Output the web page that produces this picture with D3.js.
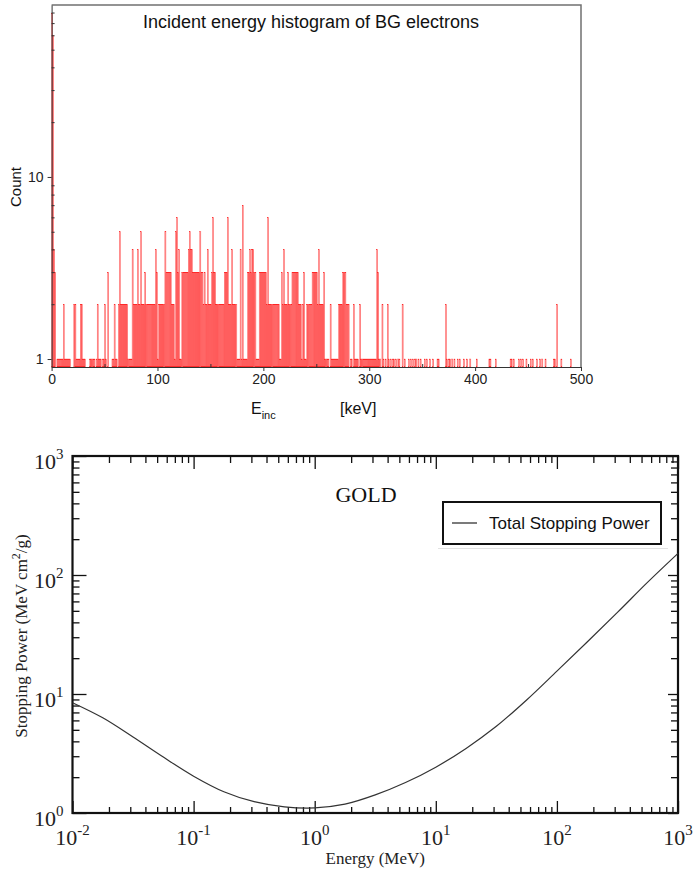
<!DOCTYPE html>
<html><head><meta charset="utf-8">
<script src="https://cdn.jsdelivr.net/npm/d3@7"></script>
<style>body{margin:0;background:#fff}svg{display:block}</style>
</head><body>
<svg id="c" width="695" height="870"></svg>
<script>
// ---------- Histogram data (bin start in keV, 1 keV bins) ----------
const histEnergy = [0,1,2,3,5,6,7,8,9,10,11,12,13,14,15,16,17,
21,22,23,24,25,26,27,28,29,30,31,36,37,38,39,40,42,43,44,45,46,48,49,50,51,53,57,58,59,60,61,
63,64,65,66,67,68,69,70,71,72,73,74,75,76,77,78,79,80,81,82,83,84,85,86,87,88,89,90,91,92,93,94,95,96,97,98,99,
100,101,102,103,104,105,106,107,108,109,110,111,112,113,114,115,116,117,118,119,120,121,122,
123,124,125,126,127,128,129,130,131,132,133,134,135,136,137,138,139,140,141,142,143,144,145,146,147,148,149,150,
151,152,153,154,155,156,157,158,159,160,161,162,163,164,165,166,167,168,169,170,171,172,173,174,175,176,177,178,179,180,
181,182,183,184,185,186,187,188,189,190,191,192,193,194,195,196,197,198,199,200,
201,202,203,204,205,206,207,208,209,210,211,212,213,214,215,216,217,218,219,220,221,222,223,224,225,226,227,228,229,230,231,232,233,234,235,236,237,238,239,240,241,242,243,244,245,246,247,248,249,250,
251,252,253,254,255,256,257,258,259,260,261,263,264,265,266,267,268,269,270,271,272,273,274,275,276,277,278,279,280,282,283,285,286,287,288,289,291,
292,293,294,295,296,297,298,299,300,301,302,303,304,305,306,307,308,309,310,312,313,315,317,318,320,322,323,325,327,328,331,333,
337,339,341,343,344,346,348,352,354,357,360,364,365,372,373,375,376,378,380,383,385,389,392,395,401,
413,414,419,433,434,436,441,443,445,448,452,454,458,461,463,466,474,475,477,481,490];
const histCount = [79,60,4,3,1,1,1,1,1,1,2,1,1,1,1,1,1,
2,2,1,1,1,1,2,2,1,1,1,1,1,1,1,1,1,2,1,1,1,1,1,2,1,3,1,1,2,1,1,
2,5,2,2,2,2,2,2,2,1,1,1,1,4,2,2,2,2,4,2,2,5,2,2,2,3,2,2,2,2,2,2,2,2,2,4,3,
1,2,2,2,2,2,2,5,3,3,3,3,3,2,2,2,1,5,6,3,4,1,1,
3,3,3,3,3,3,4,5,4,4,3,3,3,3,3,3,3,5,3,3,2,3,2,2,4,2,2,2,
3,6,3,3,2,2,2,2,2,2,2,2,3,3,3,6,2,2,2,4,2,2,2,2,1,1,1,4,1,7,
1,1,1,1,3,3,4,3,4,4,3,3,1,1,1,3,3,3,3,3,
3,3,2,6,2,2,2,2,2,2,2,2,2,2,1,1,3,2,4,2,2,2,3,2,2,2,3,3,3,3,3,3,2,2,2,1,2,3,1,1,2,2,2,2,2,3,3,3,3,3,
2,4,2,2,2,2,3,1,1,1,1,2,1,1,1,1,1,1,1,2,2,2,2,3,3,3,2,2,2,1,1,2,1,1,1,1,2,
1,1,1,1,1,1,1,1,1,1,1,1,1,1,1,4,3,1,1,2,1,1,2,1,1,1,1,1,1,1,2,1,
1,1,1,1,1,1,1,1,1,1,1,1,1,2,1,1,1,1,1,1,1,1,1,1,1,
1,1,1,1,1,1,1,1,1,1,1,1,1,1,1,1,1,1,2,1,1];
const histXTicks = [0,100,200,300,400,500];
const histXMinor = [50,150,250,350,450];
const histYTicks = [1,10];
const histYMinor = [2,3,4,5,6,7,8,9,20,30,40,50,60,70,80];

// ---------- Stopping power data (gold), read at quarter decades ----------
const spEnergy = [0.01,0.01778,0.03162,0.05623,0.1,0.1778,0.3162,0.5623,1,1.778,3.162,5.623,10,17.78,31.62,56.23,100,177.8,316.2,562.3,1000];
const spValue  = [8.45,6.31,4.35,2.95,2.04,1.51,1.245,1.127,1.104,1.186,1.419,1.803,2.427,3.49,5.35,8.91,15.56,27.35,48.5,87.1,152];
const spXTicks = [0.01,0.1,1,10,100,1000];
const spXExp = ["-2","-1","0","1","2","3"];
const spYTicks = [1,10,100,1000];
const spYExp = ["0","1","2","3"];
const spMinor = [2,3,4,5,6,7,8,9];

const svg = d3.select("#c");

// ================= TOP: histogram =================
const H = {l:51.6, r:581, t:5, b:367};
const hx = d3.scaleLinear().domain([0,500]).range([H.l,H.r]);
const hy = d3.scaleLog().domain([0.904,88]).range([H.b,H.t]);
const sans = "'Liberation Sans', Arial, sans-serif";

const bars = svg.append("g");
const bw = hx(1)-hx(0);
bars.selectAll("rect").data(d3.range(histEnergy.length)).join("rect")
  .attr("x", i=>hx(histEnergy[i]))
  .attr("width", bw)
  .attr("y", i=>hy(histCount[i]))
  .attr("height", i=>H.b-hy(histCount[i]))
  .attr("fill", "rgba(255,70,70,0.5)")
  .attr("stroke", "#ff1010").attr("stroke-width", 0.3);

// frame top/right (gray)
svg.append("path").attr("d", `M${H.l},${H.t}H${H.r}V${H.b}`)
  .attr("fill","none").attr("stroke","#707070").attr("stroke-width",1.5);

function styleAxis(g, color){
  g.selectAll("path.domain").attr("stroke", color);
  g.selectAll(".tick line").attr("stroke", color);
}
// bottom axis
const hxAxis = svg.append("g").attr("transform",`translate(0,${H.b})`)
  .call(d3.axisBottom(hx).tickValues(histXTicks).tickSize(4).tickSizeOuter(0).tickPadding(3));
hxAxis.selectAll("text").attr("font-family",sans).attr("font-size",14).attr("fill","#222");
styleAxis(hxAxis,"#333");
const hxMinor = svg.append("g").attr("transform",`translate(0,${H.b})`)
  .call(d3.axisBottom(hx).tickValues(histXMinor).tickSize(-3).tickSizeOuter(0).tickFormat(""));
hxMinor.select("path.domain").remove(); styleAxis(hxMinor,"#333");
// left axis
const hyAxis = svg.append("g").attr("transform",`translate(${H.l},0)`)
  .call(d3.axisLeft(hy).tickValues(histYTicks).tickFormat(d3.format("d")).tickSize(4).tickSizeOuter(0).tickPadding(4));
hyAxis.selectAll("text").attr("font-family",sans).attr("font-size",14).attr("fill","#222");
styleAxis(hyAxis,"#333");
const hyMinor = svg.append("g").attr("transform",`translate(${H.l},0)`)
  .call(d3.axisLeft(hy).tickValues(histYMinor).tickSize(-3).tickSizeOuter(0).tickFormat(""));
hyMinor.select("path.domain").remove(); styleAxis(hyMinor,"#333");

svg.append("text").attr("x",311).attr("y",28).attr("text-anchor","middle")
  .attr("font-family",sans).attr("font-size",18).attr("fill","#111")
  .text("Incident energy histogram of BG electrons");
svg.append("text").attr("transform","translate(21,187) rotate(-90)").attr("text-anchor","middle")
  .attr("font-family",sans).attr("font-size",15).attr("fill","#111").text("Count");
const xl = svg.append("text").attr("x",251).attr("y",414)
  .attr("font-family",sans).attr("font-size",16).attr("fill","#111");
xl.append("tspan").text("E");
xl.append("tspan").attr("font-size",11).attr("dy",5).text("inc");
svg.append("text").attr("x",340).attr("y",414)
  .attr("font-family",sans).attr("font-size",16).attr("fill","#111").text("[keV]");

// ================= BOTTOM: stopping power =================
const P = {l:72.5, r:678, t:456, b:813};
const px = d3.scaleLog().domain([0.01,1000]).range([P.l,P.r]);
const py = d3.scaleLog().domain([1,1000]).range([P.b,P.t]);
const serif = "'Liberation Serif', 'Times New Roman', serif";

const xMinorVals = [], yMinorVals = [];
spXTicks.slice(0,-1).forEach(d=>spMinor.forEach(m=>xMinorVals.push(d*m)));
spYTicks.slice(0,-1).forEach(d=>spMinor.forEach(m=>yMinorVals.push(d*m)));

function tickAxis(axisFn, scale, vals, size, tr){
  const g = svg.append("g").attr("transform",tr)
    .call(axisFn(scale).tickValues(vals).tickSize(size).tickSizeOuter(0).tickFormat(""));
  g.select("path.domain").remove();
  g.selectAll(".tick line").attr("stroke","#111").attr("stroke-width",1.3);
  return g;
}
tickAxis(d3.axisBottom, px, spXTicks, -12, `translate(0,${P.b})`);
tickAxis(d3.axisBottom, px, xMinorVals, -6, `translate(0,${P.b})`);
tickAxis(d3.axisTop, px, spXTicks, -13, `translate(0,${P.t})`);
tickAxis(d3.axisTop, px, xMinorVals, -7, `translate(0,${P.t})`);
tickAxis(d3.axisLeft, py, spYTicks, -14, `translate(${P.l},0)`);
tickAxis(d3.axisLeft, py, yMinorVals, -7, `translate(${P.l},0)`);
tickAxis(d3.axisRight, py, spYTicks, -10, `translate(${P.r},0)`);
tickAxis(d3.axisRight, py, yMinorVals, -7, `translate(${P.r},0)`);

svg.append("rect").attr("x",P.l).attr("y",P.t).attr("width",P.r-P.l).attr("height",P.b-P.t)
  .attr("fill","none").attr("stroke","#111").attr("stroke-width",2.2);

// x tick labels
spXTicks.forEach((d,i)=>{
  const t = svg.append("text").attr("x",px(d)).attr("y",P.b+32).attr("text-anchor","middle")
    .attr("font-family",serif).attr("font-size",22).attr("fill","#222");
  t.append("tspan").text("10");
  t.append("tspan").attr("font-size",15).attr("dy",-10).text(spXExp[i]);
});
// y tick labels
spYTicks.forEach((d,i)=>{
  const t = svg.append("text").attr("x",P.l-9).attr("y",py(d)+13).attr("text-anchor","end")
    .attr("font-family",serif).attr("font-size",22).attr("fill","#222");
  t.append("tspan").text("10");
  t.append("tspan").attr("font-size",15).attr("dy",-10).text(spYExp[i]);
});

// curve
const line = d3.line().x((d,i)=>px(spEnergy[i])).y((d,i)=>py(spValue[i])).curve(d3.curveCatmullRom.alpha(0.5));
svg.append("path").attr("d", line(spEnergy)).attr("fill","none")
  .attr("stroke","#333").attr("stroke-width",1.2);

// title
svg.append("text").attr("x",366).attr("y",502).attr("text-anchor","middle")
  .attr("font-family",serif).attr("font-size",22).attr("fill","#111").text("GOLD");

// legend
svg.append("line").attr("x1",438).attr("x2",668).attr("y1",548.5).attr("y2",548.5)
  .attr("stroke","#e2e2e2").attr("stroke-width",1);
svg.append("rect").attr("x",443).attr("y",502).attr("width",218).attr("height",42)
  .attr("fill","#fff").attr("stroke","#111").attr("stroke-width",2);
svg.append("line").attr("x1",452).attr("x2",477).attr("y1",523).attr("y2",523)
  .attr("stroke","#333").attr("stroke-width",1.3);
svg.append("text").attr("x",489).attr("y",529)
  .attr("font-family",sans).attr("font-size",17).attr("fill","#111").text("Total Stopping Power");

// axis titles
svg.append("text").attr("x",P.l+(P.r-P.l)/2).attr("y",864).attr("text-anchor","middle")
  .attr("font-family",serif).attr("font-size",17).attr("fill","#222").text("Energy (MeV)");
const yt = svg.append("text").attr("transform","translate(27,636) rotate(-90)").attr("text-anchor","middle")
  .attr("font-family",serif).attr("font-size",17).attr("fill","#222");
yt.append("tspan").text("Stopping Power (MeV cm");
yt.append("tspan").attr("font-size",12).attr("dy",-7).text("2");
yt.append("tspan").attr("dy",7).text("/g)");
</script>
</body></html>
